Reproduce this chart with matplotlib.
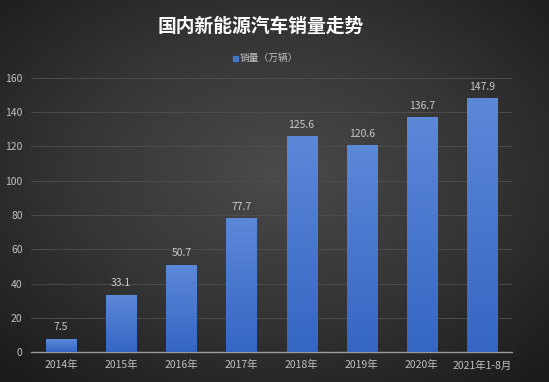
import numpy as np
import matplotlib
matplotlib.use("Agg")
import matplotlib.pyplot as plt
from matplotlib.colors import LinearSegmentedColormap

plt.rcParams['font.family'] = ['Noto Sans CJK SC', 'DejaVu Sans']

categories = ["2014年", "2015年", "2016年", "2017年", "2018年", "2019年", "2020年", "2021年1-8月"]
sales = [7.5, 33.1, 50.7, 77.7, 125.6, 120.6, 136.7, 147.9]
value_labels = ["7.5", "33.1", "50.7", "77.7", "125.6", "120.6", "136.7", "147.9"]
yticks = [0, 20, 40, 60, 80, 100, 120, 140, 160]

W, H = 549, 382
fig = plt.figure(figsize=(W / 100, H / 100), dpi=100)

# background radial gradient
bg = fig.add_axes([0, 0, 1, 1])
yy, xx = np.mgrid[0:1:200j, 0:1:300j]
r = np.sqrt(((xx - 0.5) / 0.75) ** 2 + ((yy - 0.55) / 0.75) ** 2)
cmap_bg = LinearSegmentedColormap.from_list("bg", ["#4a4a4a", "#363636", "#1c1c1c"])
bg.imshow(r, cmap=cmap_bg, aspect="auto", extent=[0, 1, 0, 1], vmin=0, vmax=0.95, origin="lower")
bg.axis("off")

ax = fig.add_axes([31 / W, (H - 352) / H, (512 - 31) / W, (352 - 78) / H])
ax.set_facecolor("none")
x = np.arange(len(categories))

# gradient bars
cmap_bar = LinearSegmentedColormap.from_list("bar", ["#3566c4", "#5c88d8"])
grad = np.linspace(0, 1, 100).reshape(-1, 1)
bw = 0.5
bars = ax.bar(x, sales, width=bw, color="none", edgecolor="none", zorder=3)
for b in bars:
    x0 = b.get_x()
    h = b.get_height()
    ax.imshow(grad, cmap=cmap_bar, aspect="auto", origin="lower",
              extent=[x0, x0 + bw, 0, h], zorder=3)
for xi, v, lab in zip(x, sales, value_labels):
    ax.text(xi, v + 4, lab, ha="center", va="bottom", color="#c8c8c8", fontsize=7.5, zorder=4)
ax.set_xlim(-0.5, len(categories) - 0.5)
ax.set_ylim(0, 160)

ax.set_yticks(yticks)
ax.set_xticks(x)
ax.set_xticklabels(categories)
ax.tick_params(axis="both", colors="#c0c0c0", labelsize=7.5, length=0)
ax.tick_params(axis="x", pad=6)
ax.tick_params(axis="y", pad=6)
ax.grid(axis="y", color="#505050", linewidth=0.6, zorder=0)
for s in ["top", "right", "left"]:
    ax.spines[s].set_visible(False)
ax.spines["bottom"].set_color("#9a9a9a")
ax.spines["bottom"].set_linewidth(1)

fig.text(0.475, (H - 26) / H, "国内新能源汽车销量走势", ha="center", va="center",
         color="white", fontsize=13.5, fontweight="bold")
# legend
fig.patches.append(plt.Rectangle((233 / W, (H - 61) / H), 5 / W, 5 / H,
                                 transform=fig.transFigure, color="#4472c4", figure=fig))
fig.text(240 / W, (H - 58) / H, "销量（万辆）", ha="left", va="center",
         color="#c0c0c0", fontsize=7)

fig.savefig("out.png", dpi=100)
